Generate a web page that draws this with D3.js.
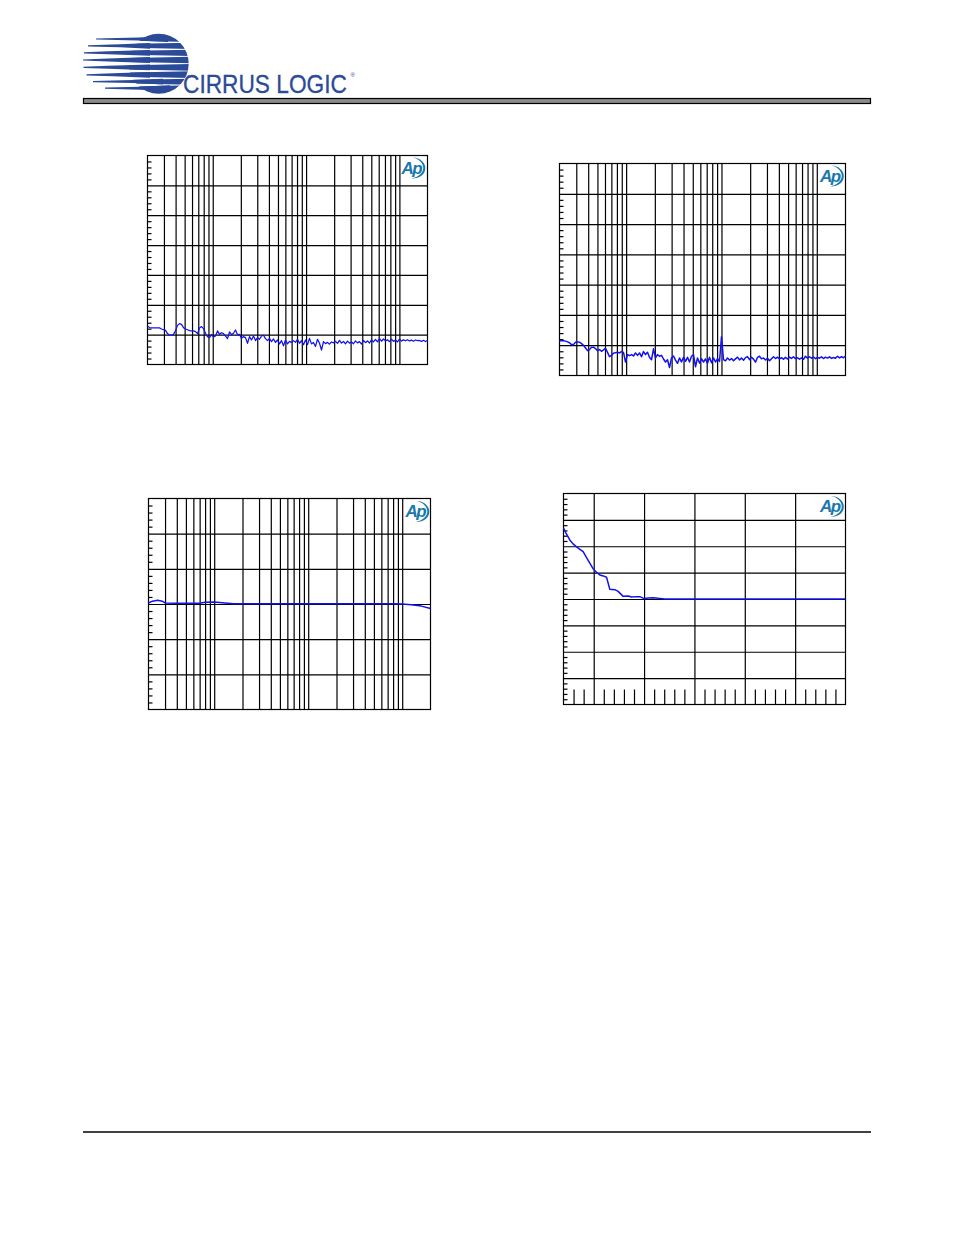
<!DOCTYPE html>
<html><head><meta charset="utf-8">
<script src="https://cdnjs.cloudflare.com/ajax/libs/d3/7.8.5/d3.min.js"></script>
<style>html,body{margin:0;padding:0;background:#fff}svg{display:block}</style>
</head><body><svg id="page" width="954" height="1235"></svg>
<script>
// ---- data ----
const logFreqTicks = [30,40,50,60,70,80,90,100,200,300,400,500,600,700,800,900,1000,2000,3000,4000,5000,6000,7000,8000,9000,10000];
const freqDomain = [20,20000];

const noiseA = [
-114.2,-115.3,-115.5,-115.5,-115.5,-115.5,-115.5,-116.2,-116.7,-117.1,
-119.3,-120.4,-120.4,-119.8,-117.5,-113.8,-112.6,-113.1,-115.3,-116.2,
-116.7,-117.3,-117.5,-117.5,-118,-119.3,-115.5,-114.6,-116,-119.1,
-121.3,-122,-120,-121.6,-120.9,-117.5,-119.8,-118.7,-119.3,-120.9,
-122.7,-118.2,-120,-119.1,-116.9,-120,-119.8,-122.5,-121.3,-122,
-125.8,-121.3,-123.6,-120.9,-124,-122,-123.1,-120.9,-120.4,
-122.7,-124,-122.5,-124.7,-122.9,-125.2,-123.6,-126.2,-124,-127.5,
-123.6,-126.2,-124.5,-125.2,-124,-125.2,-123.1,-125.8,-124,-126.7,
-123.6,-126.7,-122.5,-126.2,-125.2,-127.9,-123.1,-125.8,-130.3,-124.7,
-126,-125.2,-126.4,-124.9,-125.5,-124.5,-125.8,-123.8,-125.6,-124.6,
-126.2,-124.3,-125.7,-124.9,-126.1,-124.2,-125.5,-124.7,-126.3,-123.9,
-125.4,-124.2,-125.6,-123.5,-124.9,-123.2,-124.8,-122.6,-124.4,-122.9,
-124.2,-123.4,-124.7,-123.1,-124.5,-123.6,-124.9,-123,-124.3,-123.5,
-124.1,-123.4,-124.2,-123.7,-124.4,-123.6,-124,-123.9,-124.5,-123.8,
-124.6,-123.9];

const noiseB = [
-117.1,-117.1,-117.1,-117.3,-117.8,-118.4,-119.6,-119.6,-118,-117.8,
-118,-118.9,-120,-121.8,-123.6,-122.9,-121.3,-121.3,-122.2,-123.6,
-122.9,-124,-123.1,-122,-124.7,-127.6,-126.7,-125.3,-124.9,-124.7,
-125.1,-124.2,-124.7,-131.1,-126.2,-126.9,-126.2,-127.1,-125.1,-126.7,
-125.1,-127.6,-124.2,-126.2,-124.7,-128,-129.6,-122.4,-128.4,-126.2,
-127.3,-126.7,-129.1,-131.1,-129.6,-134.7,-128.4,-127.1,-129.8,-132,
-128.4,-131.1,-128,-130.7,-128,-131.1,-127.3,-126.2,-134.2,-128.4,
-131.8,-128.9,-131.1,-129.1,-132,-128,-131.6,-128.4,-131.1,-128.9,
-130.7,-114.4,-129.5,-130.3,-128.4,-129.8,-128.8,-130.2,-129,-127.9,
-129.7,-128.5,-129.9,-128.2,-127.5,-129.5,-127.9,-129.2,-131.2,-128,
-127.3,-129,-128.4,-129.8,-128.6,-130.3,-128.9,-127.6,-128.8,-127.9,
-129.1,-128.2,-129.3,-128,-129.1,-127.8,-128.7,-127.6,-128.9,-128.3,
-129.2,-128.4,-129.3,-127.3,-128.5,-127.6,-128.6,-127.8,-128.9,-128,
-128.6,-127.7,-128.8,-127.9,-128.5,-127.7,-128.7,-128.1,-128.6,-127.3,
-128.4,-127.5,-128.3,-127.2];

const responseFreq = [20,22,25,28,30,40,60,70,80,100,130,160,200,1000,8000,10000,12500,16000,20000];
const responseGain = [0.03,0.08,0.105,0.08,0.03,0.02,0.02,0.02,0.05,0.06,0.03,0.01,0.01,0.01,0.01,0,-0.02,-0.06,-0.13];

const fadeLevel = [-112,-110.8,-109.5,-108.2,-106.8,-105.5,-104.2,-102.9,-101.5,-100.2,-98.9,-97.6,-96.2,-94.9,-93.6,-91.6,-90.3,-88.3,-86.3,-85,-83,-81.7,-80,-78.4,-76.4,-74.4,-71.8,0];
const fadeDev = [5.37,4.91,4.48,4.18,3.95,3.77,3.59,3.16,2.71,2.28,2.03,1.82,1.75,1.65,0.73,0.71,0.58,0.2,0.23,0.15,0.18,0.18,0.03,0.08,0.1,0.05,0,0];

const sweep = v => v.map((d,i)=>[20*Math.pow(1000,i/(v.length-1)), d]);
const zip = (a,b) => a.map((d,i)=>[d,b[i]]);
const range = (a,b,s) => d3.range(a,b+s/2,s);

// ---- page furniture ----
const svg = d3.select('#page');
const brand = '#2b4a97', blue = '#1212f0', apBlue = '#1a78ad';

function drawHeader(){
  const g = svg.append('g');
  g.append('circle').attr('cx',158.7).attr('cy',63.7).attr('r',30).attr('fill',brand);
  [42.3,49.3,56.4,63.6,71,78.3,85].forEach(y=>{
    g.append('polygon').attr('points',`120,${y-1.8} 190,${y-0.35} 190,${y+0.35} 120,${y+1.8}`).attr('fill','#fff');
  });
  const rows = [[39,96,138],[45.8,88,120],[52.8,84,108],[60,83,108],[67.3,83.5,108],[74.8,86.5,113],[81.6,93,133],[88.2,105,140]];
  rows.forEach(r=>{
    const [y,a,b] = r, end = Math.max(b+30,150), h = 2.9;
    g.append('polygon').attr('points',`${a},${y-0.6} ${b},${y-1.5} ${end},${y-h} ${end},${y+h} ${b},${y+1.5} ${a},${y+0.6}`).attr('fill',brand);
  });
  const word = g.append('text').attr('font-family','Liberation Sans').attr('font-size',26.5)
    .attr('fill',brand).attr('stroke',brand).attr('stroke-width',0.3).text('CIRRUS LOGIC');
  const natural = word.node().getComputedTextLength();
  word.attr('transform',`translate(183,93) scale(${164/natural},1)`);
  g.append('text').attr('x',350.5).attr('y',77).attr('font-family','Liberation Sans').attr('font-size',6).attr('fill',brand).text('®');
  g.append('rect').attr('x',83.5).attr('y',98.5).attr('width',787).attr('height',5).attr('fill','#8b8b8b').attr('stroke','#000').attr('stroke-width',1.2);
  g.append('line').attr('x1',83).attr('x2',871).attr('y1',1132).attr('y2',1132).attr('stroke','#000').attr('stroke-width',1.6);
}

function drawApLogo(cx,cy){
  const g = svg.append('g').attr('transform',`translate(${cx},${cy})`);
  g.append('text').attr('x',-11).attr('y',5.5).attr('font-family','Liberation Sans').attr('font-style','italic').attr('font-weight','bold')
    .attr('font-size',17).attr('letter-spacing',-1.5).attr('fill',apBlue).text('Ap');
  g.append('path').attr('d','M0,-10.5 C8,-10.5 12.8,-5 12.8,0 C12.8,6 8,10.5 -1,10.5 C6,9 10.8,5 10.8,0 C10.8,-5 6,-9.5 0,-10.5Z').attr('fill',apBlue);
}

function drawChart(o){
  const g = svg.append('g');
  const x = o.x, y = o.y;
  const [x0,x1] = x.range(), [y1,y0] = y.range();
  const strip = s => { s.select('.domain').remove(); s.selectAll('line').attr('stroke','#000').attr('stroke-width',1.2); };

  g.append('g').attr('transform',`translate(${x0},0)`)
    .call(d3.axisRight(y).tickValues(o.yMinor).tickSize(4).tickFormat('')).call(strip);
  g.append('g').attr('transform',`translate(${x0},0)`)
    .call(d3.axisRight(y).tickValues(o.yMajor).tickSize(x1-x0).tickFormat('')).call(strip);
  g.append('g').attr('transform',`translate(0,${y1})`)
    .call(d3.axisTop(x).tickValues(o.xMajor).tickSize(y1-y0).tickFormat('')).call(strip);
  if(o.xMinor){
    g.append('g').attr('transform',`translate(0,${y1})`)
      .call(d3.axisTop(x).tickValues(o.xMinor).tickSize(15).tickFormat('')).call(strip);
  }
  g.append('rect').attr('x',x0).attr('y',y0).attr('width',x1-x0).attr('height',y1-y0)
    .attr('fill','none').attr('stroke','#000').attr('stroke-width',1.2);

  const line = d3.line().x(d=>x(d[0])).y(d=>y(d[1]));
  g.append('path').datum(o.data).attr('d',line).attr('fill','none').attr('stroke',blue).attr('stroke-width',o.sw||1.25).attr('stroke-linejoin','round');
  drawApLogo(o.logo[0],o.logo[1]);
}

drawHeader();

drawChart({
  x:d3.scaleLog().domain(freqDomain).range([147.5,427.5]),
  y:d3.scaleLinear().domain([-140,0]).range([364.5,155.5]),
  xMajor:logFreqTicks, yMajor:range(-120,-20,20), yMinor:range(-136,-4,4).filter(v=>v%20!==0),
  data:sweep(noiseA), logo:[412.5,168]
});
drawChart({
  x:d3.scaleLog().domain(freqDomain).range([559.5,845.5]),
  y:d3.scaleLinear().domain([-140,0]).range([375.5,163.5]),
  xMajor:logFreqTicks, yMajor:range(-120,-20,20), yMinor:range(-136,-4,4).filter(v=>v%20!==0),
  data:sweep(noiseB), logo:[831,176], sw:1.5
});
drawChart({
  x:d3.scaleLog().domain(freqDomain).range([148.5,430.5]),
  y:d3.scaleLinear().domain([-3,3]).range([709.5,498.5]),
  xMajor:logFreqTicks, yMajor:range(-2,2,1), yMinor:range(-2.8,2.8,0.2).filter(v=>Math.abs(v-Math.round(v))>1e-6),
  data:zip(responseFreq,responseGain), logo:[416.5,511.5], sw:1.5
});
drawChart({
  x:d3.scaleLinear().domain([-112,0]).range([563.5,845.5]),
  y:d3.scaleLinear().domain([-8,8]).range([704.5,493.5]),
  xMajor:range(-100,-20,20), xMinor:range(-108,-4,4).filter(v=>v%20!==0),
  yMajor:range(-6,6,2), yMinor:range(-7.6,7.6,0.4).filter(v=>Math.abs(v/2-Math.round(v/2))>1e-6),
  data:zip(fadeLevel,fadeDev), logo:[831,506.5], sw:1.5
});
</script></body></html>
